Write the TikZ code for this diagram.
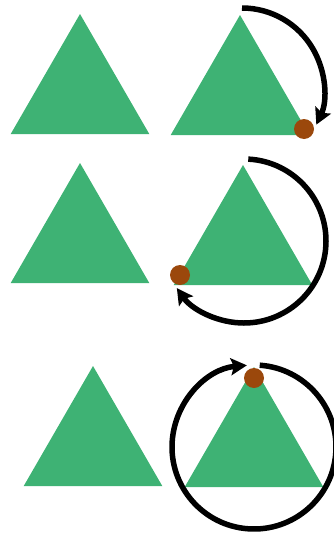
\documentclass[tikz,border=0pt]{standalone}
\usepackage{xcolor}
\usetikzlibrary{shapes.geometric, arrows.meta}
\definecolor{trigreen}{RGB}{62,178,116}
\definecolor{dotbrown}{RGB}{155,72,12}

\begin{document}
\begin{tikzpicture}[
  x=1pt, y=1pt,
  tri/.style={regular polygon, regular polygon sides=3, minimum size=160pt, inner sep=0pt, outer sep=0pt, fill=trigreen},
  vtx/.style={circle, minimum size=20pt, inner sep=0pt, fill=dotbrown},
  rot/.style={-{Stealth[length=16pt,width=17pt,inset=3pt]}, line width=5.5pt}
]
  \useasboundingbox (0,0) rectangle (334,-533);

  % triangles
  \node[tri] (ta) at (80,-94)  {};
  \node[tri] (tb) at (240,-95) {};
  \node[tri] (tc) at (80,-243) {};
  \node[tri] (td) at (243,-245) {};
  \node[tri] (te) at (93,-446) {};
  \node[tri] (tf) at (254,-447) {};

  % rotation arrows
  \coordinate (c1) at (242,-90);
  \coordinate (c2) at (244,-241);
  \coordinate (c3) at (254,-447);
  \draw[rot] ([shift={(90:82)}]c1) arc[start angle=90, end angle=-25, radius=82];
  \draw[rot] ([shift={(87:82)}]c2) arc[start angle=87, end angle=-145, radius=82];
  \draw[rot] ([shift={(86:82)}]c3) arc[start angle=86, end angle=-265, radius=82];

  % marked corners
  \node[vtx] (pb) at (304,-129) {};
  \node[vtx] (pd) at (180,-275) {};
  \node[vtx] (pf) at (254,-378) {};
\end{tikzpicture}
\end{document}
